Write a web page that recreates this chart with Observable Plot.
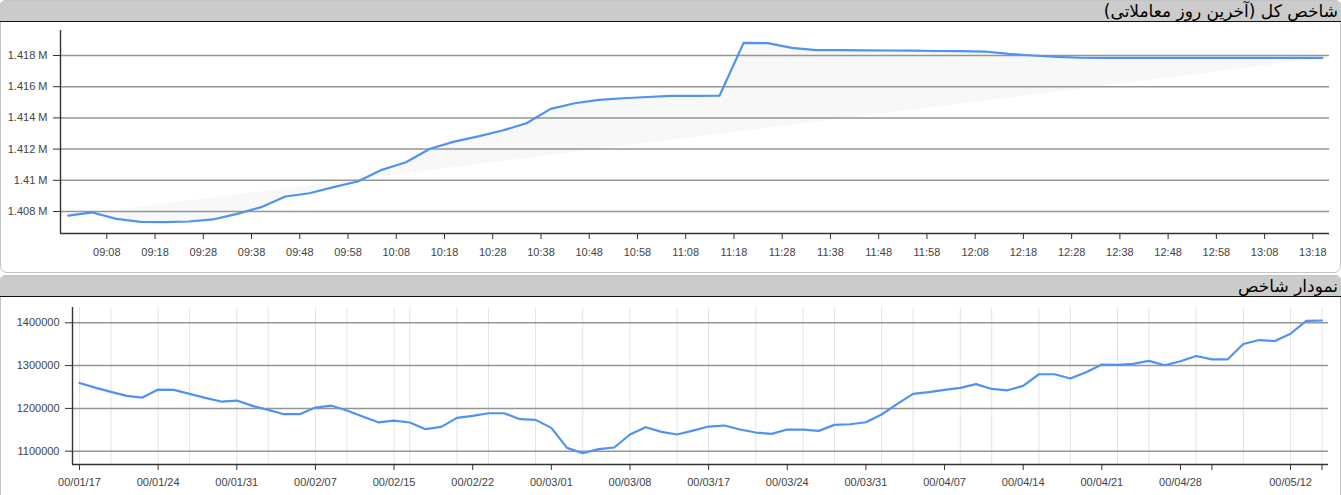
<!DOCTYPE html>
<html><head><meta charset="utf-8">
<script src="https://cdn.jsdelivr.net/npm/d3@7"></script>
<script src="https://cdn.jsdelivr.net/npm/@observablehq/plot@0.6"></script>
<style>
html,body{margin:0;padding:0;background:#fff}
body{width:1341px;height:495px;overflow:hidden;position:relative;font-family:"Liberation Sans",Arial,sans-serif}
.panel{position:absolute;left:0;width:1341px;border:1px solid #c4c4c4;background:#fff;box-sizing:border-box}
#p1{top:0;height:273px;border-radius:5px 5px 7px 7px}
#p2{top:275px;height:240px;border-radius:5px 5px 0 0}
.hdr{position:absolute;left:-1px;right:-1px;top:0;background:#cbcbcb;border-bottom:1.5px solid #111;direction:rtl;text-align:right;font-family:"DejaVu Sans",sans-serif;font-size:17px;color:#000;padding-right:3px;box-sizing:border-box;white-space:nowrap;border-radius:5px 5px 0 0}
#p1 .hdr{height:21px;line-height:20px}
#p2 .hdr{height:21px;line-height:20px}
.chart{position:absolute;left:0}
#c1{top:21px}
#c2{top:296px}
svg{display:block}
</style>
</head><body>
<div class="panel" id="p1"><div class="hdr" id="t1"></div></div>
<div class="panel" id="p2"><div class="hdr" id="t2"></div></div>
<div class="chart" id="c1"></div>
<div class="chart" id="c2"></div>
<script>
// ---------- data ----------
const topTitle = "شاخص کل (آخرین روز معاملاتی)";
const bottomTitle = "نمودار شاخص";

// intraday index, every 5 minutes
const intradayTimes = [
 "09:00","09:05","09:10","09:15","09:20","09:25","09:30","09:35","09:40","09:45",
 "09:50","09:55","10:00","10:05","10:10","10:15","10:20","10:25","10:30","10:35",
 "10:40","10:45","10:50","10:55","11:00","11:05","11:10","11:15","11:20","11:25",
 "11:30","11:35","11:40","11:45","11:50","11:55","12:00","12:05","12:10","12:15",
 "12:20","12:25","12:30","12:35","12:40","12:45","12:50","12:55","13:00","13:05",
 "13:10","13:15","13:20"];
const intradayValues = [
 1407740,1407940,1407530,1407340,1407320,1407360,1407490,1407850,1408280,1408960,
 1409170,1409560,1409920,1410670,1411160,1412020,1412480,1412820,1413190,1413660,
 1414580,1414940,1415160,1415260,1415340,1415410,1415410,1415420,1418810,1418790,
 1418490,1418340,1418340,1418330,1418320,1418310,1418290,1418275,1418255,1418100,
 1418000,1417915,1417855,1417850,1417850,1417850,1417850,1417850,1417850,1417850,
 1417850,1417850,1417850];
const intradayTickLabels = ["09:08","09:18","09:28","09:38","09:48","09:58","10:08","10:18","10:28","10:38",
 "10:48","10:58","11:08","11:18","11:28","11:38","11:48","11:58","12:08","12:18","12:28","12:38","12:48","12:58","13:08","13:18"];
const intradayYTicks = [1408000,1410000,1412000,1414000,1416000,1418000];

// daily index (trading days)
const dailyValues = [
 1259500,1248500,1238500,1229200,1225300,1244000,1243200,1233900,1224500,1216000,
 1218300,1205800,1196500,1186400,1186400,1202000,1206600,1195000,1181200,1167400,
 1171600,1167000,1151400,1156800,1177800,1182500,1188700,1188700,1174700,1173200,
 1154500,1107800,1095300,1104700,1108600,1139000,1156000,1145100,1139000,1148200,
 1157600,1160000,1150600,1143600,1140500,1150600,1150600,1147500,1161500,1163000,
 1167700,1185700,1210600,1234000,1237900,1243300,1248000,1256600,1245400,1242300,
 1252700,1279800,1279800,1269800,1284500,1302300,1301600,1303900,1310900,1300800,
 1310100,1322500,1314700,1314700,1350400,1359700,1357400,1374400,1404700,1405400];
const dailyTickIndex  = [0,5,10,15,20,25,30,35,40,45,50,55,60,65,70,72,77,79];
const dailyTickLabels = ["00/01/17","00/01/24","00/01/31","00/02/07","00/02/15","00/02/22","00/03/01","00/03/08",
 "00/03/17","00/03/24","00/03/31","00/04/07","00/04/14","00/04/21","00/04/28","","00/05/12",""];
const dailyWeekGrid = [0,2,5,7,10,12,15,17,20,21,24,26,29,32,35,38,40,43,46,48,51,53,56,58,61,63,66,68,71,74,77,79];
const dailyYTicks = [1100000,1200000,1300000,1400000];

// ---------- build ----------
document.getElementById("t1").textContent = topTitle;
document.getElementById("t2").textContent = bottomTitle;

const parseT = d3.utcParse("%H:%M");
const intraday = intradayTimes.map((t,i)=>({t:parseT(t), v:intradayValues[i]}));
const xStart = new Date(Date.UTC(1900,0,1,8,58,24));
const xEnd = new Date(Date.UTC(1900,0,1,13,21,27));
const lineColor = "#4f92f2";
const axisFont = "'Liberation Sans', Arial, sans-serif";

const chart1 = Plot.plot({
  width:1341, height:250,
  marginLeft:60, marginRight:12, marginTop:9, marginBottom:38,
  style:{background:"transparent", fontFamily:axisFont, fontSize:"11px", color:"#444", overflow:"visible"},
  x:{type:"utc", domain:[xStart,xEnd]},
  y:{domain:[1406590,1419603]},
  marks:[
    Plot.line(intraday,{x:"t", y:"v", fill:"#f8f8f8", stroke:"none"}),
    Plot.gridY(intradayYTicks,{stroke:"#959595", strokeOpacity:1, strokeWidth:1.5}),
    Plot.ruleX([xStart],{stroke:"#333", strokeWidth:1.4}),
    Plot.ruleY([1406590],{stroke:"#333", strokeWidth:1.4}),
    Plot.line(intraday,{x:"t", y:"v", stroke:lineColor, strokeWidth:2.2}),
    Plot.axisY(intradayYTicks,{tickSize:7, tickPadding:6, stroke:"#333", fill:"#444", label:null,
      tickFormat:d=>(+(d/1e6).toFixed(3))+" M"}),
    Plot.axisX(intradayTickLabels.map(parseT),{tickSize:6, tickPadding:9, stroke:"#333", fill:"#444", label:null,
      tickFormat:d3.utcFormat("%H:%M")})
  ]
});
document.getElementById("c1").appendChild(chart1);

const daily = dailyValues.map((v,i)=>({i, v}));
const xd0 = -0.445, xd1 = 79.413;
const y0 = 1068900;
const chart2 = Plot.plot({
  width:1341, height:199,
  marginLeft:72, marginRight:13, marginTop:11, marginBottom:31,
  style:{background:"transparent", fontFamily:axisFont, fontSize:"11px", color:"#444", overflow:"visible"},
  x:{domain:[xd0,xd1]},
  y:{domain:[y0,1435750]},
  marks:[
    Plot.gridX(dailyWeekGrid,{stroke:"#e4e4e4", strokeOpacity:1, strokeWidth:1}),
    Plot.gridY(dailyYTicks,{stroke:"#959595", strokeOpacity:1, strokeWidth:1.5}),
    Plot.ruleX([xd0],{stroke:"#333", strokeWidth:1.4}),
    Plot.ruleY([y0],{stroke:"#333", strokeWidth:1.4}),
    Plot.line(daily,{x:"i", y:"v", stroke:lineColor, strokeWidth:2.2}),
    Plot.axisY(dailyYTicks,{tickSize:7, tickPadding:6, stroke:"#333", fill:"#444", label:null, tickFormat:d=>String(d)}),
    Plot.axisX(dailyTickIndex,{tickSize:6, tickPadding:8, stroke:"#333", fill:"#444", label:null,
      tickFormat:(d)=>dailyTickLabels[dailyTickIndex.indexOf(d)]})
  ]
});
document.getElementById("c2").appendChild(chart2);
</script>
</body></html>
